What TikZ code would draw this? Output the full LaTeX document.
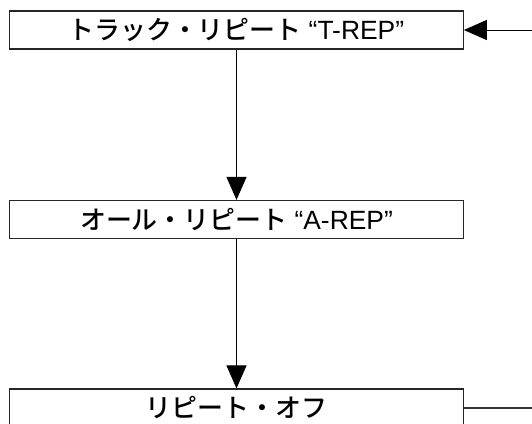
\documentclass[tikz,border=0pt]{standalone}
\usepackage{fontspec}
\setmainfont{Liberation Sans}
\newfontfamily\jp{Noto Sans CJK JP Medium}
\usetikzlibrary{arrows.meta}
\begin{document}
\begin{tikzpicture}[x=1bp,y=-1bp,
  stepbox/.style={draw=black!85,line width=1.2bp,rectangle,minimum width=453.5bp,minimum height=38bp,inner sep=0pt,fill=white,
    font=\fontsize{26}{30}\selectfont},
  conn/.style={draw=black,line width=1bp,-{Triangle[length=23bp,width=20bp]}},
  plain/.style={draw=black!80,line width=1.1bp}]
\useasboundingbox (0,0) rectangle (532,423);
\clip (0,0) rectangle (532,423);
\node[stepbox] (trep) at (236.5,30) {{\jp トラック・リピート} {\fontsize{26.5}{30}\selectfont “T-REP”}};
\node[stepbox] (arep) at (236.5,219.5) {{\jp オール・リピート} {\fontsize{26.5}{30}\selectfont “A-REP”}};
\node[stepbox] (off) at (236.5,408) {\jp リピート・オフ};
\coordinate (rb) at (545,408);
\coordinate (rt) at (545,30);
\draw[conn] (trep) -- (arep);
\draw[conn] (arep) -- (off);
\draw[plain] (off.east) -- (rb) -- (rt);
\draw[conn] (rt) -- (trep.east);
\end{tikzpicture}
\end{document}
